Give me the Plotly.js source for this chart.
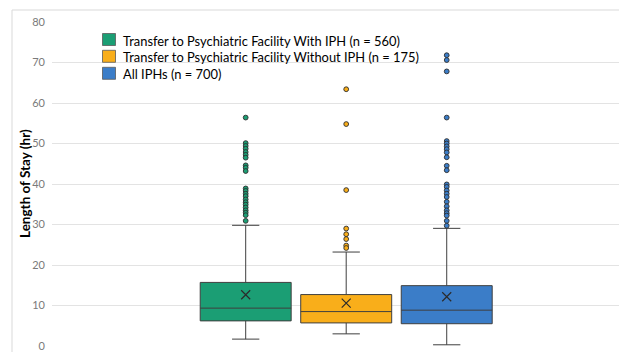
<!DOCTYPE html>
<html>
<head>
<meta charset="utf-8">
<script src="https://cdn.plot.ly/plotly-3.0.1.min.js"></script>
<style>html,body{margin:0;padding:0;background:#fff;}#chart{width:619px;height:352px;}</style>
</head>
<body>
<div id="chart"></div>
<script>
// Data
const seriesNames = [
  "Transfer to Psychiatric Facility With IPH (n = 560)",
  "Transfer to Psychiatric Facility Without IPH (n = 175)",
  "All IPHs (n = 700)"
];
const positions = [0, 1, 2];
const lowerFence = [1.7, 3.0, 0.3];
const q1Values = [6.2, 5.7, 5.5];
const medians = [9.35, 8.5, 8.85];
const q3Values = [15.7, 12.7, 14.9];
const upperFence = [29.8, 23.2, 29.05];
const means = [12.65, 10.6, 12.15];
const outliersWithIPH = [56.4, 50.1, 49.4, 48.7, 47.9, 47.2, 46.5, 44.6, 44.0, 43.2, 38.9, 38.3, 37.6, 37.0, 36.2, 35.5, 34.9, 34.2, 33.5, 32.9, 32.3, 30.9];
const outliersWithoutIPH = [63.4, 54.8, 38.5, 29.0, 27.6, 26.4, 24.8, 24.2];
const outliersAll = [71.8, 70.6, 67.8, 56.4, 50.6, 50.0, 49.3, 48.6, 47.8, 46.6, 44.5, 43.4, 39.9, 39.3, 38.4, 37.6, 36.8, 35.6, 34.5, 33.5, 32.8, 32.2, 30.9, 29.7];
const outlierSets = [outliersWithIPH, outliersWithoutIPH, outliersAll];
const yTicks = [0, 10, 20, 30, 40, 50, 60, 70, 80];
const yTitle = "Length of Stay (hr)";

const fills = ["#1b9e74", "#f9ae1a", "#3b7dc8"];
const edge = "#3f3f3f";

// plot-area geometry (pixels) for placing the manual legend
const W = 619, H = 352, ML = 52, MR = 0, MT = 22, MB = 6;
const PW = W - ML - MR, PH = H - MT - MB;
const px = v => (v - ML) / PW;
const py = v => (H - MB - v) / PH;

const traces = [];
for (let i = 0; i < 3; i++) {
  traces.push({
    type: "box",
    name: seriesNames[i],
    x: [positions[i]],
    q1: [q1Values[i]], median: [medians[i]], q3: [q3Values[i]],
    lowerfence: [lowerFence[i]], upperfence: [upperFence[i]],
    width: 0.905,
    whiskerwidth: 0.3,
    fillcolor: fills[i],
    line: {color: edge, width: 1},
    boxpoints: false,
    hoverinfo: "skip",
    showlegend: false
  });
}
for (let i = 0; i < 3; i++) {
  traces.push({
    type: "scatter", mode: "markers",
    x: outlierSets[i].map(() => positions[i]),
    y: outlierSets[i],
    marker: {symbol: "circle", size: 4.8, color: fills[i], line: {color: "#2b2b2b", width: 0.9}},
    showlegend: false, hoverinfo: "skip"
  });
}
traces.push({
  type: "scatter", mode: "markers",
  x: positions, y: means,
  marker: {symbol: "x-thin-open", size: 9, color: "#2b2b2b", line: {color: "#2b2b2b", width: 1.2}},
  showlegend: false, hoverinfo: "skip"
});

const legendRows = [39.5, 56.3, 73.3];
const shapes = [{
  type: "rect", xref: "paper", yref: "paper",
  x0: px(12), x1: 1.3, y0: -0.3, y1: py(10),
  line: {color: "#d9d9d9", width: 1}, fillcolor: "rgba(0,0,0,0)", layer: "above"
}];
const annotations = [];
for (let i = 0; i < 3; i++) {
  shapes.push({
    type: "rect", xref: "paper", yref: "paper",
    x0: px(102.5), x1: px(115.5), y0: py(legendRows[i] + 6), y1: py(legendRows[i] - 6),
    fillcolor: fills[i], line: {color: "#5a5a5a", width: 0.8}, layer: "above"
  });
  annotations.push({
    xref: "paper", yref: "paper", x: px(120.5), y: py(legendRows[i] + 1),
    xanchor: "left", yanchor: "middle", showarrow: false,
    text: seriesNames[i],
    font: {size: 12.9, color: "#000", family: "Lato, sans-serif"}
  });
}
annotations.push({
  xref: "paper", yref: "paper", x: px(25), y: 0.5,
  xanchor: "center", yanchor: "middle", showarrow: false, textangle: -90,
  text: "<b>" + yTitle + "</b>",
  font: {size: 13.5, color: "#000", family: "Lato, sans-serif"}
});

const layout = {
  width: W, height: H,
  margin: {l: ML, r: MR, t: MT, b: MB, pad: 0},
  paper_bgcolor: "#fff", plot_bgcolor: "rgba(0,0,0,0)",
  font: {family: "Lato, 'Open Sans', sans-serif", color: "#000"},
  showlegend: false,
  xaxis: {
    type: "linear", range: [-1.927, 3.714],
    showgrid: false, zeroline: false, showticklabels: false, ticks: "", showline: false,
    fixedrange: true
  },
  yaxis: {
    range: [0, 80], tickvals: yTicks, ticktext: yTicks.map(String),
    showgrid: true, gridcolor: "#e3e3e3", gridwidth: 1,
    zeroline: false, showline: false, ticks: "",
    tickfont: {size: 11, color: "#7a7a7a", family: "Lato, sans-serif"},
    ticklabelstandoff: 6, automargin: false
  },
  shapes: shapes,
  annotations: annotations
};

Plotly.newPlot("chart", traces, layout, {staticPlot: true, displayModeBar: false});
</script>
</body>
</html>
